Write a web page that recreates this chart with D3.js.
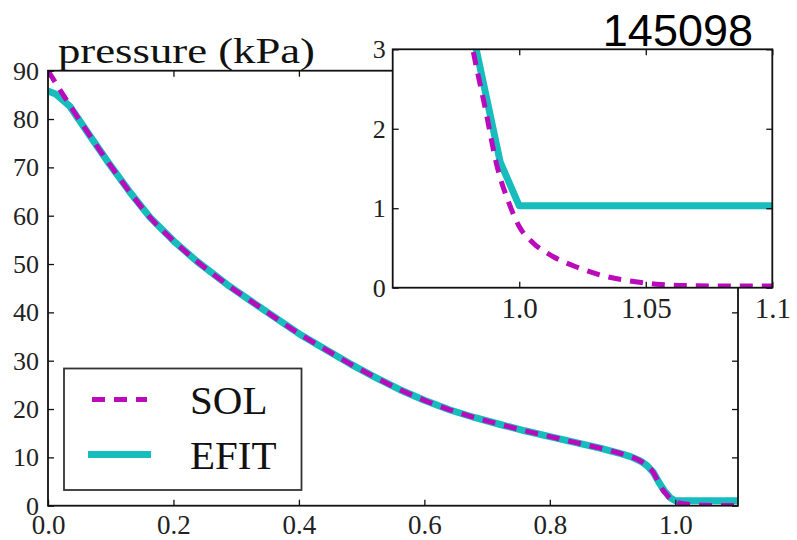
<!DOCTYPE html>
<html>
<head>
<meta charset="utf-8">
<script src="https://cdn.jsdelivr.net/npm/d3@7"></script>
</head>
<body style="margin:0; background:#fff">
<svg id="base" width="797" height="540"></svg>
<script>
// normalised flux psi vs pressure (kPa)
const psiSOL = [0, 0.04, 0.067, 0.094, 0.131, 0.163, 0.2, 0.237, 0.285, 0.343, 0.4, 0.444, 0.481,
    0.521, 0.561, 0.6, 0.641, 0.681, 0.721, 0.76, 0.8, 0.84, 0.88, 0.91, 0.93, 0.945, 0.955,
    0.965, 0.972, 0.98, 0.987, 0.991, 0.996, 1.0, 1.0056, 1.0135, 1.0227, 1.032, 1.046,
    1.056, 1.069, 1.085, 1.1];
const pSOL = [90, 81.8, 76.5, 71.4, 64.8, 59.6, 54.8, 50.6, 45.8, 40.6, 35.6, 32.2, 29.4,
    26.6, 24.0, 21.8, 19.8, 18.2, 16.8, 15.5, 14.3, 13.1, 11.9, 10.9, 10.1, 9.2, 8.3,
    6.9, 5.2, 3.3, 2.19, 1.56, 1.06, 0.77, 0.56, 0.39, 0.26, 0.16, 0.075,
    0.04, 0.025, 0.02, 0.02];

const psiEFIT = [0, 0.012, 0.035, 0.067, 0.094, 0.131, 0.163, 0.2, 0.237, 0.285, 0.343, 0.4, 0.444,
    0.481, 0.521, 0.561, 0.6, 0.641, 0.681, 0.721, 0.76, 0.8, 0.84, 0.88, 0.91, 0.93, 0.945,
    0.955, 0.965, 0.975, 0.983, 0.9925, 1.0, 1.1];
const pEFIT = [85.8, 85.2, 82.6, 76.5, 71.4, 64.8, 59.6, 54.8, 50.6, 45.8, 40.6, 35.6, 32.2,
    29.4, 26.6, 24.0, 21.8, 19.8, 18.2, 16.8, 15.5, 14.3, 13.1, 11.9, 10.9, 10.1, 9.2,
    8.3, 6.9, 4.6, 3.0, 1.58, 1.03, 1.03];

const mainXTicks = [0, 0.2, 0.4, 0.6, 0.8, 1.0];
const mainYTicks = [0, 10, 20, 30, 40, 50, 60, 70, 80, 90];
const insetXTicks = [1.0, 1.05, 1.1];
const insetXLabels = ["1.0", "1.05", "1.1"];
const insetYTicks = [0, 1, 2, 3];

const series = [
    { name: "EFIT", psi: psiEFIT, p: pEFIT },
    { name: "SOL", psi: psiSOL, p: pSOL }
];

const cyan = "#17bdbd";
const magenta = "#bb0abb";
const serif = "Liberation Serif";

const base = d3.select("#base");

function panel(g, x, y, opts) {
    const [x0, x1] = x.range();
    const [y0, y1] = y.range();

    g.append("rect")
        .attr("x", x0).attr("y", y1)
        .attr("width", x1 - x0).attr("height", y0 - y1)
        .attr("fill", "#fff");

    g.append("clipPath").attr("id", opts.id)
        .append("rect")
        .attr("x", x0).attr("y", y1)
        .attr("width", x1 - x0).attr("height", y0 - y1);

    const lines = g.append("g").attr("clip-path", `url(#${opts.id})`);

    series.forEach((s) => {
        const pts = s.psi.map((v, i) => [v, s.p[i]]);
        const line = d3.line()
            .x((d) => x(d[0]))
            .y((d) => y(d[1]))
            .curve(s.name === "SOL" ? d3.curveMonotoneX : d3.curveLinear);
        lines.append("path")
            .attr("d", line(pts))
            .attr("fill", "none")
            .attr("stroke", s.name === "SOL" ? magenta : cyan)
            .attr("stroke-width", s.name === "SOL" ? 5 : 7)
            .attr("stroke-dasharray", s.name === "SOL" ? "13,9" : null)
            .attr("stroke-linejoin", "round");
    });

    // inward ticks on all four sides
    const tick = 6;
    const bottom = g.append("g")
        .attr("transform", `translate(0,${y0})`)
        .call(d3.axisBottom(x).tickValues(opts.xTicks).tickSize(-tick).tickPadding(opts.xPad).tickFormat(opts.xFmt));
    g.append("g")
        .attr("transform", `translate(0,${y1})`)
        .call(d3.axisTop(x).tickValues(opts.xTicks).tickSize(-tick).tickFormat(""));
    const left = g.append("g")
        .attr("transform", `translate(${x0},0)`)
        .call(d3.axisLeft(y).tickValues(opts.yTicks).tickSize(-tick).tickPadding(opts.yPad).tickFormat(d3.format("d")));
    g.append("g")
        .attr("transform", `translate(${x1},0)`)
        .call(d3.axisRight(y).tickValues(opts.yTicks).tickSize(-tick).tickFormat(""));

    g.selectAll(".domain").remove();
    g.selectAll(".tick line").attr("stroke", "#111").attr("stroke-width", 1.3);
    bottom.attr("font-family", serif).attr("font-size", opts.xSize);
    left.attr("font-family", serif).attr("font-size", opts.ySize);
    g.selectAll(".tick text").attr("fill", "#222");

    g.append("rect")
        .attr("x", x0).attr("y", y1)
        .attr("width", x1 - x0).attr("height", y0 - y1)
        .attr("fill", "none")
        .attr("stroke", "#111")
        .attr("stroke-width", 1.8);
}

// main panel
const xMain = d3.scaleLinear().domain([0, 1.1]).range([48, 738]);
const yMain = d3.scaleLinear().domain([0, 90]).range([505.7, 70.7]);
panel(base.append("g"), xMain, yMain, {
    id: "clipMain", xTicks: mainXTicks, xFmt: d3.format(".1f"), yTicks: mainYTicks,
    xPad: 9, yPad: 9, xSize: 27, ySize: 26
});

// legend
const legend = base.append("g");
legend.append("rect")
    .attr("x", 64).attr("y", 368.5)
    .attr("width", 237.5).attr("height", 121.5)
    .attr("fill", "#fff")
    .attr("stroke", "#333")
    .attr("stroke-width", 1.8);
const legendItems = [
    { name: "SOL", y: 399.5, color: magenta, w: 5, dash: "13,9", x0: 92, x1: 147 },
    { name: "EFIT", y: 454.5, color: cyan, w: 7, dash: null, x0: 88, x1: 151 }
];
legendItems.forEach((d) => {
    legend.append("line")
        .attr("x1", d.x0).attr("x2", d.x1)
        .attr("y1", d.y).attr("y2", d.y)
        .attr("stroke", d.color)
        .attr("stroke-width", d.w)
        .attr("stroke-dasharray", d.dash);
    legend.append("text")
        .attr("x", 190).attr("y", d.y + 14)
        .attr("font-family", serif)
        .attr("font-size", 41)
        .attr("fill", "#111")
        .text(d.name);
});

// title
base.append("text")
    .attr("x", 58).attr("y", 63)
    .attr("font-family", serif)
    .attr("font-size", 36)
    .attr("textLength", 257)
    .attr("lengthAdjust", "spacingAndGlyphs")
    .attr("fill", "#111")
    .text("pressure (kPa)");

// inset
const xIn = d3.scaleLinear().domain([0.95, 1.1]).range([392.7, 772.3]);
const yIn = d3.scaleLinear().domain([0, 3]).range([287.7, 49.3]);
panel(base.append("g"), xIn, yIn, {
    id: "clipInset", xTicks: insetXTicks, xFmt: (d, i) => insetXLabels[i], yTicks: insetYTicks,
    xPad: 10, yPad: 7, xSize: 29, ySize: 26
});

// shot number
base.append("text")
    .attr("x", 753).attr("y", 46)
    .attr("text-anchor", "end")
    .attr("font-family", "Liberation Sans")
    .attr("font-size", 45)
    .attr("fill", "#000")
    .text("145098");
</script>
</body>
</html>
